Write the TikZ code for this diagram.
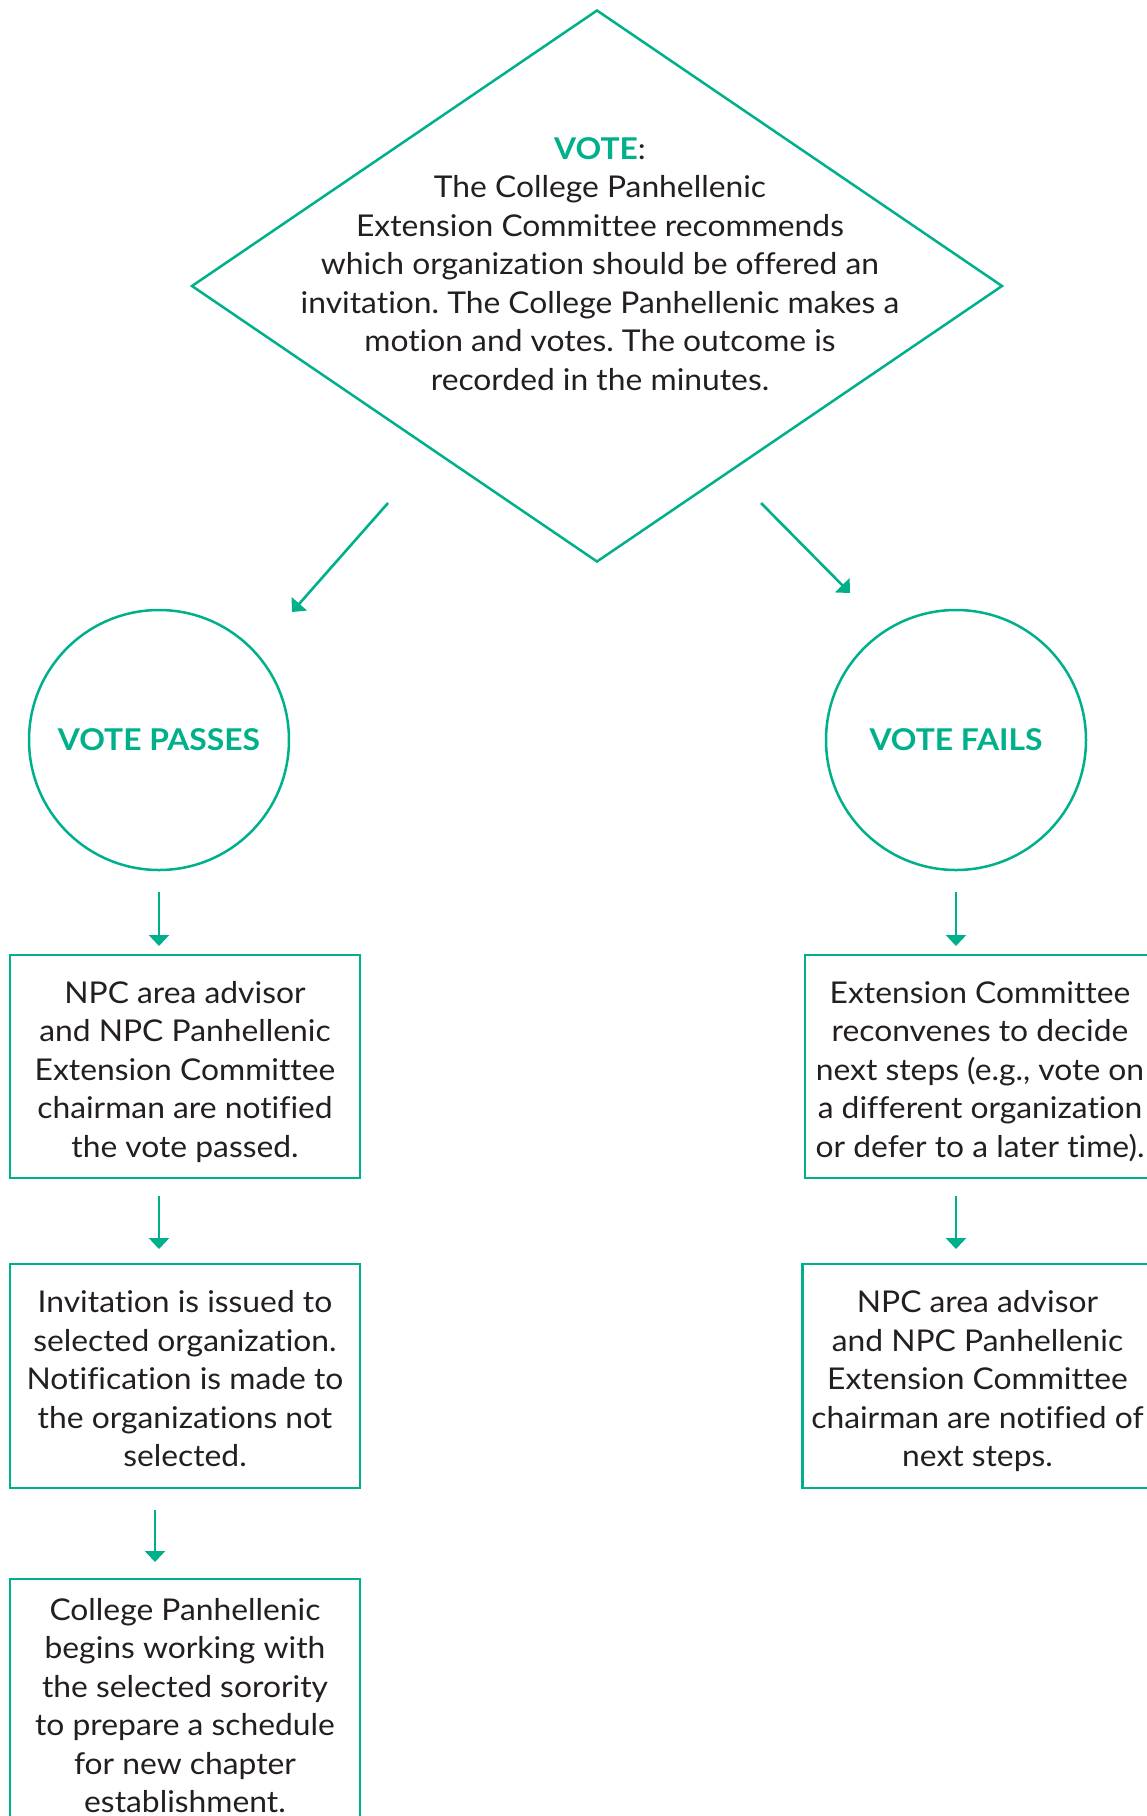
\documentclass[tikz,border=0pt]{standalone}
\usepackage{fontspec}
\setmainfont[Ligatures=NoCommon,FakeStretch=1.06]{Lato}
\usetikzlibrary{shapes.geometric,arrows.meta,calc}
\definecolor{npcgreen}{RGB}{0,176,138}
\definecolor{txt}{RGB}{35,31,32}
\newcommand{\lowtext}[1]{\raisebox{-6pt}[\height][\depth]{\begin{tabular}{@{}c@{}}#1\end{tabular}}}
\frenchspacing
\begin{document}
\begin{tikzpicture}[x=1pt,y=-1pt,
  every node/.style={inner sep=0pt,outer sep=0pt,text=txt,font=\fontsize{30}{38.5}\selectfont\frenchspacing},
  gline/.style={draw=npcgreen,line width=2.5pt},
  stepbox/.style={gline,rectangle,minimum width=350pt},
  roundnode/.style={gline,circle,minimum size=260pt,font=\fontsize{30}{38.5}\selectfont\bfseries,text=npcgreen},
  arr/.style={draw=npcgreen,line width=2.6pt,-{Triangle[width=20pt,length=11pt]}}
]
\useasboundingbox (0,0) rectangle (1147,1816);
\clip (0,0) rectangle (1147,1816);
\fill[white] (0,0) rectangle (1147,1816);

% decision diamond
\node[gline,diamond,minimum width=810pt,minimum height=551pt] (vote) at (597,286) {};
\node[align=center] (votetext) at (600,264)
  {{\bfseries\color{npcgreen}VOTE}:\\
   The College Panhellenic\\
   Extension Committee recommends\\
   which organization should be offered an\\
   invitation. The College Panhellenic makes a\\
   motion and votes. The outcome is\\
   recorded in the minutes.};

% outcomes
\node[roundnode] (pass) at (159,740) {\raisebox{-2pt}{VOTE PASSES}};
\node[roundnode] (fail) at (956,740) {\raisebox{-2pt}{VOTE FAILS}};

% steps
\node[stepbox,minimum height=223pt] (l1) at (185,1066.5)
  {\lowtext{NPC area advisor\\and NPC Panhellenic\\Extension Committee\\chairman are notified\\the vote passed.}};
\node[stepbox,minimum height=224pt] (l2) at (185,1376)
  {\lowtext{Invitation is issued to\\selected organization.\\Notification is made to\\the organizations not\\selected.}};
\node[stepbox,minimum height=248pt] (l3) at (185,1703)
  {\lowtext{College Panhellenic\\begins working with\\the selected sorority\\to prepare a schedule\\for new chapter\\establishment.}};
\node[stepbox,minimum height=223pt] (r1) at (980,1066.5)
  {\lowtext{Extension Committee\\reconvenes to decide\\next steps (e.g., vote on\\a different organization\\or defer to a later time).}};
\node[stepbox,minimum height=224pt] (r2) at (977.5,1376)
  {\lowtext{NPC area advisor\\and NPC Panhellenic\\Extension Committee\\chairman are notified of\\next steps.}};

% diagonal connectors (free ends)
\coordinate (vl) at (388,503);
\coordinate (pl) at (292,612);
\coordinate (vr) at (761,503);
\coordinate (fr) at (850,593);
\draw[arr] (vl) -- (pl);
\draw[arr] (vr) -- (fr);

% vertical connectors
\draw[arr] ($(pass.south)+(0,22)$) -- ($(pass.south |- l1.north)+(0,-9)$);
\draw[arr] ($(fail.south)+(0,22)$) -- ($(fail.south |- r1.north)+(0,-9)$);
\draw[arr] ($(pass.south |- l1.south)+(0,18)$) -- ($(pass.south |- l2.north)+(0,-15)$);
\draw[arr] ($(fail.south |- r1.south)+(0,18)$) -- ($(fail.south |- r2.north)+(0,-15)$);
\draw[arr] ($(pass.south |- l2.south)+(-4,22)$) -- ($(pass.south |- l3.north)+(-4,-17)$);
\end{tikzpicture}
\end{document}
